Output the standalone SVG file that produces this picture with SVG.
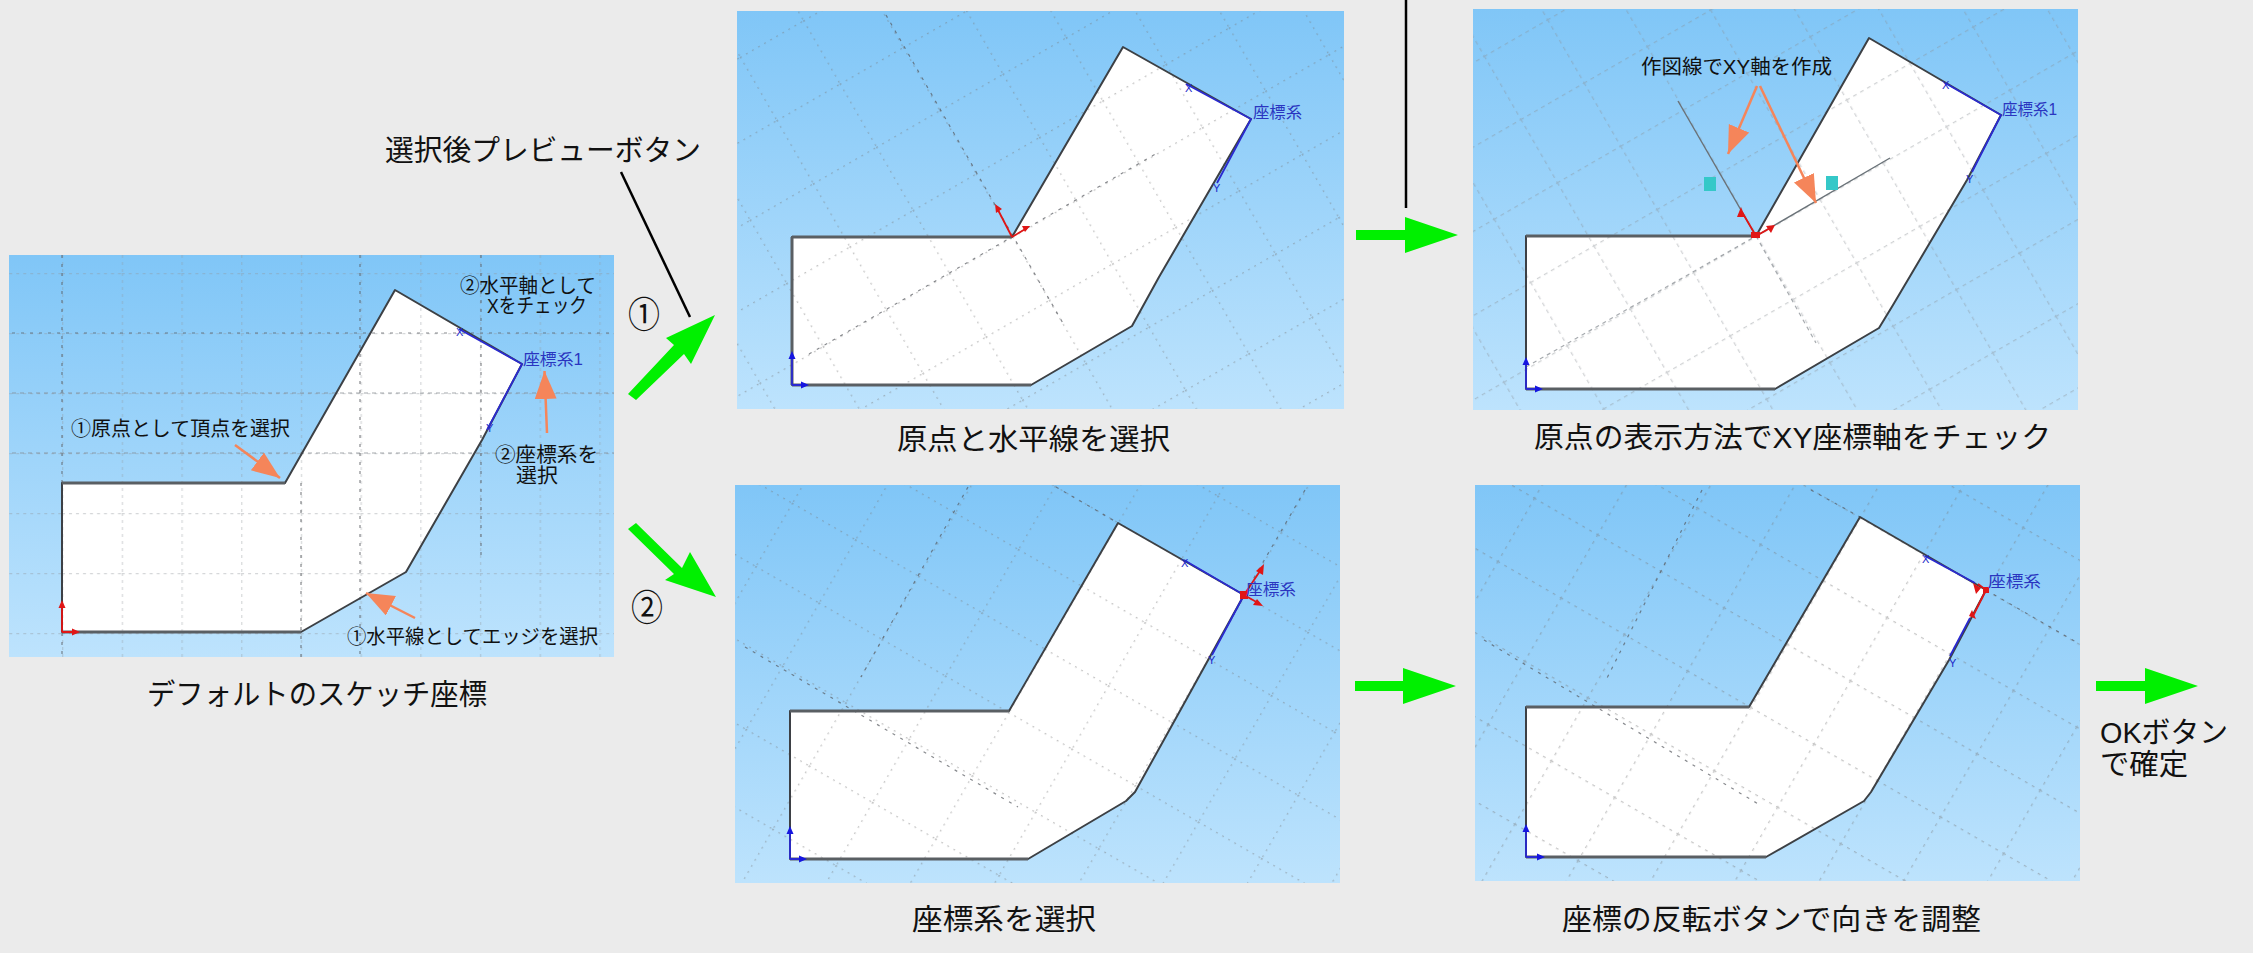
<svg xmlns="http://www.w3.org/2000/svg" xmlns:xlink="http://www.w3.org/1999/xlink" width="2253" height="953" viewBox="0 0 2253 953">
<style>
text{font-family:"Liberation Sans","Noto Sans CJK JP",sans-serif;fill:#111;}
.cap{font-size:29px}
.note{font-size:20px}
.num{font-size:36px}
.sys{font-size:16px;fill:#2a35c0}
.xy{font-size:11px;fill:#1c28c8}
.bg{fill:url(#sky)}
.shape{fill:#fff;stroke:none}
.edge{fill:none;stroke:#3c4044;stroke-width:2;stroke-linejoin:round}
.thick{fill:none;stroke:#5a5f64;stroke-width:3}
.axis{fill:none;stroke:#55595e;stroke-opacity:.7;stroke-width:1.2;stroke-dasharray:3 6}
.axisl{fill:none;stroke:#80868c;stroke-opacity:.7;stroke-width:1.2;stroke-dasharray:4 4}
.bluel{fill:none;stroke:#2a2ad0;stroke-width:1.8}
.redl{fill:none;stroke:#e01515;stroke-width:1.8}
.bluedot{fill:#1515e0}
.reddot{fill:#e01515}
.orange{stroke:#f5855a;stroke-width:2.5;fill:none;marker-end:url(#oh)}
.green{fill:#00f000}
.leader{stroke:#000;stroke-width:2.5;fill:none}
.teal{fill:#35c8c8}
.soft{filter:url(#soft)}
</style>
<defs>
<filter id="soft" x="-2%" y="-2%" width="104%" height="104%"><feGaussianBlur stdDeviation="0.6"/></filter>
<linearGradient id="sky" x1="0" y1="0" x2="0" y2="1"><stop offset="0" stop-color="#80c6f7"/><stop offset="1" stop-color="#bde3fd"/></linearGradient>
<marker id="oh" markerUnits="userSpaceOnUse" markerWidth="32" markerHeight="24" refX="28" refY="11" orient="auto"><path d="M0,0 L28,11 L0,22 z" fill="#f5855a"/></marker>
<pattern id="g1" width="59.7" height="60" patternUnits="userSpaceOnUse" patternTransform="translate(62 333)"><path d="M0.7,0V60M0,0.7H60" fill="none" stroke="#90969c" stroke-opacity=".38" stroke-width="1.2" stroke-dasharray="3 4"/></pattern>
<pattern id="g2" width="73" height="73" patternUnits="userSpaceOnUse" patternTransform="translate(1012 237) rotate(-30)"><path d="M0.7,0V73M0,0.7H73" fill="none" stroke="#777" stroke-opacity=".42" stroke-width="1.2" stroke-dasharray="2 5"/></pattern>
<pattern id="g3" width="73" height="73" patternUnits="userSpaceOnUse" patternTransform="translate(1756 236) rotate(-30)"><path d="M0.7,0V73M0,0.7H73" fill="none" stroke="#8a8f94" stroke-opacity=".4" stroke-width="1.2" stroke-dasharray="4 4"/></pattern>
<pattern id="g4" width="73" height="73" patternUnits="userSpaceOnUse" patternTransform="translate(1244.5 595) rotate(30)"><path d="M0.7,0V73M0,0.7H73" fill="none" stroke="#777" stroke-opacity=".42" stroke-width="1.2" stroke-dasharray="2 5"/></pattern>
<pattern id="g5" width="73" height="73" patternUnits="userSpaceOnUse" patternTransform="translate(1986.5 590) rotate(30)"><path d="M0.7,0V73M0,0.7H73" fill="none" stroke="#777" stroke-opacity=".42" stroke-width="1.2" stroke-dasharray="3 5"/></pattern>
<clipPath id="c2"><rect x="737" y="11" width="607" height="398"/></clipPath>
<clipPath id="c3"><rect x="1473" y="9" width="605" height="401"/></clipPath>
<clipPath id="c4"><rect x="735" y="485" width="605" height="398"/></clipPath>
<clipPath id="c5"><rect x="1475" y="485" width="605" height="396"/></clipPath>
</defs>
<rect width="2253" height="953" fill="#ebebeb"/>

<g id="panel-default">
<g class="soft">
<rect class="bg" x="9" y="255" width="605" height="402"/>
<polygon class="shape" points="62,483 285,483 395,290 522,364 482,440 406,572 301,632 62,632"/>
<rect x="9" y="255" width="605" height="402" fill="url(#g1)"/>
<path class="axis" d="M62,255V657M301,483V657M360,255V657M481,255V560M12,333H614"/>
<path class="axisl" d="M12,393H614M12,453H614"/>
<polygon class="edge" points="62,483 285,483 395,290 522,364 482,440 406,572 301,632 62,632"/>
<path class="thick" d="M62,483H285M62,632H301"/>
<path class="bluel" d="M459,329L522,364L487,430"/>
<path class="redl" d="M62,632V606M62,632H78"/>
<path class="reddot" d="M62,600l3.5,8h-7zM80,632l-8,3.5v-7z"/>
</g>
<text class="sys" x="523" y="365" textLength="60" lengthAdjust="spacingAndGlyphs">座標系1</text>
<text class="xy" x="456" y="336">X</text>
<text class="xy" x="486" y="432">Y</text>
<text class="note" x="460" y="293" textLength="136" lengthAdjust="spacingAndGlyphs">②水平軸として</text>
<text class="note" x="487" y="313" textLength="100" lengthAdjust="spacingAndGlyphs">Xをチェック</text>
<text class="note" x="71" y="436" textLength="219" lengthAdjust="spacingAndGlyphs">①原点として頂点を選択</text>
<text class="note" x="495" y="462" textLength="103" lengthAdjust="spacingAndGlyphs">②座標系を</text>
<text class="note" x="516" y="483" textLength="42" lengthAdjust="spacingAndGlyphs">選択</text>
<text class="note" x="347" y="644" textLength="251" lengthAdjust="spacingAndGlyphs">①水平線としてエッジを選択</text>
<text class="cap" x="147" y="705" textLength="340" lengthAdjust="spacingAndGlyphs">デフォルトのスケッチ座標</text>
</g>

<g id="panel-origin">
<g class="soft">
<rect class="bg" x="737" y="11" width="607" height="398"/>
<polygon class="shape" points="792,237 1012,237 1123,47 1251,119 1159,277 1132,326 1031,385 792,385"/>
<rect x="737" y="11" width="607" height="398" fill="url(#g2)"/>
<g clip-path="url(#c2)"><path class="axis" d="M886,15L1064,325M809,354L1159,152"/></g>
<polygon class="edge" points="792,237 1012,237 1123,47 1251,119 1159,277 1132,326 1031,385 792,385"/>
<path class="thick" d="M792,237H1012M792,385V237M792,385H1031"/>
<path class="bluel" d="M1186,84L1251,119L1217,183"/>
<path class="redl" d="M1012,237L997,208M1012,237L1027,228"/>
<path class="reddot" d="M995,204l7,5l-6,4zM1030,226l-8,0l3,6z"/>
<path class="bluel" d="M792,385V356M792,385H806"/>
<path class="bluedot" d="M792,351l3.5,8h-7zM809,385l-8,3.5v-7z"/>
</g>
<text class="sys" x="1253" y="118" textLength="49" lengthAdjust="spacingAndGlyphs">座標系</text>
<text class="xy" x="1185" y="92">X</text>
<text class="xy" x="1213" y="192">Y</text>
<text class="cap" x="897" y="450" textLength="273" lengthAdjust="spacingAndGlyphs">原点と水平線を選択</text>
</g>

<g id="panel-xy">
<g class="soft">
<rect class="bg" x="1473" y="9" width="605" height="401"/>
<polygon class="shape" points="1526,236 1756,236 1869,38 2001,115 1967,180 1893,305 1879,328 1775,389 1526,389"/>
<rect x="1473" y="9" width="605" height="401" fill="url(#g3)"/>
<g clip-path="url(#c3)"><path class="axisl" d="M1756,236L1816,343M1526,367L1756,236"/></g>
<polygon class="edge" points="1526,236 1756,236 1869,38 2001,115 1967,180 1893,305 1879,328 1775,389 1526,389"/>
<path class="thick" d="M1526,236H1756M1526,389H1775"/>
<path d="M1678,101L1756,236L1890,158" fill="none" stroke="#6a7278" stroke-width="1.4"/>
<path class="bluel" d="M1945,83L2001,115L1972,172"/>
<path class="redl" d="M1756,236L1742,212M1756,236L1772,227"/>
<path class="reddot" d="M1741,207l4,10h-8zM1766,226l9,-1l-4,8zM1751,232h9v6h-9z"/>
<path class="bluel" d="M1526,389V362M1526,389H1540"/>
<path class="bluedot" d="M1526,357l3.5,8h-7zM1543,389l-8,3.5v-7z"/>
<rect class="teal" x="1704" y="177" width="12" height="14"/>
<rect class="teal" x="1826" y="176" width="12" height="14"/>
</g>
<text class="sys" x="2002" y="115" textLength="55" lengthAdjust="spacingAndGlyphs">座標系1</text>
<text class="xy" x="1942" y="89">X</text>
<text class="xy" x="1966" y="183">Y</text>
<text class="note" x="1641" y="74" textLength="191" lengthAdjust="spacingAndGlyphs">作図線でXY軸を作成</text>
<text class="cap" x="1534" y="448" textLength="517" lengthAdjust="spacingAndGlyphs">原点の表示方法でXY座標軸をチェック</text>
</g>

<g id="panel-coordsys">
<g class="soft">
<rect class="bg" x="735" y="485" width="605" height="398"/>
<polygon class="shape" points="790,711 1009,711 1118,523 1244,595 1186,700 1135,792 1126,801 1028,859 790,859"/>
<rect x="735" y="485" width="605" height="398" fill="url(#g4)"/>
<g clip-path="url(#c4)"><path class="axis" d="M745,647L1018,807M1056,487L1118,523M1305,490L1244,595M968,487L861,677"/></g>
<polygon class="edge" points="790,711 1009,711 1118,523 1244,595 1186,700 1135,792 1126,801 1028,859 790,859"/>
<path class="thick" d="M790,711H1009M790,859H1028"/>
<path class="bluel" d="M1184,560L1244,595L1212,655"/>
<path class="redl" d="M1244,595L1262,568M1244,595L1260,604"/>
<path class="reddot" d="M1264,564l-1,11l-7,-4zM1263,606l-10,-1l4,-6zM1240,591h8v8h-8z"/>
<path class="bluel" d="M790,859V832M790,859H804"/>
<path class="bluedot" d="M790,826l3.5,8h-7zM807,859l-8,3.5v-7z"/>
</g>
<text class="sys" x="1246" y="595" textLength="50" lengthAdjust="spacingAndGlyphs">座標系</text>
<text class="xy" x="1181" y="567">X</text>
<text class="xy" x="1208" y="664">Y</text>
<text class="cap" x="912" y="930" textLength="184" lengthAdjust="spacingAndGlyphs">座標系を選択</text>
</g>

<g id="panel-flip">
<g class="soft">
<rect class="bg" x="1475" y="485" width="605" height="396"/>
<polygon class="shape" points="1526,707 1749,707 1860,517 1986,590 1949,660 1871,792 1864,801 1766,857 1526,857"/>
<rect x="1475" y="485" width="605" height="396" fill="url(#g5)"/>
<g clip-path="url(#c5)"><path class="axis" d="M1484,640L1760,805M1811,490L1860,517M1986,590L2076,642M1702,490L1606,680"/></g>
<polygon class="edge" points="1526,707 1749,707 1860,517 1986,590 1949,660 1871,792 1864,801 1766,857 1526,857"/>
<path class="thick" d="M1526,707H1749M1526,857H1766"/>
<path class="bluel" d="M1925,556L1975,583M1970,618L1950,656"/>
<path class="redl" d="M1986,590L1973,616M1986,590L1978,584"/>
<path class="reddot" d="M1973,583l8,5l-5,6zM1972,610l4,9l-7,-3zM1983,587h6v6h-6z"/>
<path class="bluel" d="M1526,857V830M1526,857H1540"/>
<path class="bluedot" d="M1526,824l3.5,8h-7zM1545,857l-8,3.5v-7z"/>
</g>
<text class="sys" x="1988" y="587" textLength="53" lengthAdjust="spacingAndGlyphs">座標系</text>
<text class="xy" x="1922" y="563">X</text>
<text class="xy" x="1949" y="667">Y</text>
<text class="cap" x="1562" y="930" textLength="419" lengthAdjust="spacingAndGlyphs">座標の反転ボタンで向きを調整</text>
</g>

<g id="label-preview"><text class="cap" x="385" y="161" textLength="316" lengthAdjust="spacingAndGlyphs">選択後プレビューボタン</text></g>
<g id="label-1"><text class="num" x="628" y="328" textLength="32" lengthAdjust="spacingAndGlyphs">①</text></g>
<g id="label-2"><text class="num" x="631" y="621" textLength="32" lengthAdjust="spacingAndGlyphs">②</text></g>
<g id="label-ok">
<text class="cap" x="2100" y="743" textLength="128" lengthAdjust="spacingAndGlyphs">OKボタン</text>
<text class="cap" x="2100" y="775" textLength="88" lengthAdjust="spacingAndGlyphs">で確定</text>
</g>

<g id="connectors">
<line class="leader" x1="621" y1="172" x2="690" y2="317"/>
<line class="leader" x1="1406" y1="0" x2="1406" y2="208"/>
<polygon class="green" points="628,394 674,345 666,338 715,315 691,364 684,354 636,400"/>
<polygon class="green" points="636,523 682,568 690,552 716,597 665,580 674,574 628,529"/>
<polygon class="green" points="1356,230 1405,230 1405,217 1458,235 1405,253 1405,240 1356,240"/>
<polygon class="green" points="1355,681 1403,681 1403,668 1456,686 1403,704 1403,691 1355,691"/>
<polygon class="green" points="2096,681 2145,681 2145,668 2198,686 2145,704 2145,691 2096,691"/>
<line class="orange" x1="235" y1="445" x2="280" y2="478"/>
<line class="orange" x1="547" y1="433" x2="544.5" y2="371"/>
<line class="orange" x1="415" y1="618" x2="366" y2="593"/>
<line class="orange" x1="1757" y1="86" x2="1728" y2="154"/>
<line class="orange" x1="1760" y1="86" x2="1816" y2="203"/>
</g>
</svg>
